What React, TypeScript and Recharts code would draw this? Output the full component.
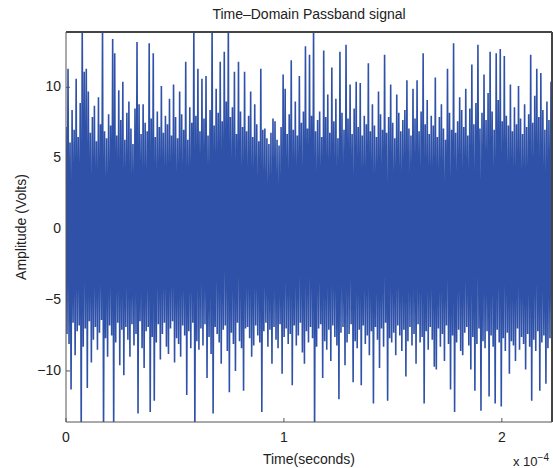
import React from 'react';
import { LineChart, Line, XAxis, YAxis, ReferenceLine } from 'recharts';

// upper and lower swing of each carrier cycle (Volts) left to right
const upperPeaks = [
  7.2, 11.3, 6.1, 8.4, 7.0, 10.6, 6.5, 8.9, 14.5, 11.1,
  11.3, 9.7, 6.8, 7.9, 8.7, 6.2, 9.3, 7.4, 14.5, 6.9,
  6.4, 8.1, 7.3, 13.4, 12.4, 6.6, 9.8, 7.7, 10.4, 6.3,
  8.2, 9.0, 7.1, 6.0, 8.5, 13.2, 8.8, 6.7, 8.8, 7.5,
  6.9, 13.1, 7.8, 12.4, 6.5, 8.3, 7.2, 10.1, 6.8, 8.0,
  7.4, 9.2, 6.6, 10.2, 7.9, 6.4, 9.7, 8.1, 7.0, 11.8,
  6.3, 8.6, 7.5, 14.5, 8.0, 11.3, 6.9, 10.6, 7.8, 10.8,
  6.6, 8.4, 14.5, 7.3, 9.9, 8.2, 11.8, 7.6, 12.5, 9.0,
  14.5, 7.9, 8.6, 11.1, 6.7, 11.8, 8.3, 7.2, 11.1, 6.9,
  8.0, 9.7, 6.5, 8.8, 7.4, 6.2, 11.3, 7.0, 7.1, 6.4,
  6.0, 6.8, 7.8, 7.6, 6.3, 5.9, 7.2, 10.9, 9.9, 6.7,
  8.1, 11.9, 7.0, 9.0, 6.6, 10.8, 7.5, 8.3, 12.9, 7.1,
  12.3, 8.0, 14.5, 6.9, 7.7, 8.3, 6.5, 12.6, 7.9, 9.5,
  6.8, 11.4, 7.6, 9.2, 6.4, 12.5, 8.2, 7.0, 13.0, 7.8,
  10.2, 6.7, 8.5, 10.4, 7.2, 10.3, 6.6, 8.0, 7.4, 11.7,
  6.9, 8.8, 7.3, 6.5, 9.7, 8.1, 7.0, 12.3, 6.8, 7.9,
  10.2, 7.5, 6.4, 9.5, 8.2, 6.9, 7.7, 8.4, 10.5, 7.1,
  6.6, 9.9, 7.8, 10.5, 6.9, 8.3, 12.4, 7.4, 9.1, 6.7,
  8.0, 7.3, 10.7, 6.5, 7.9, 8.8, 7.1, 6.3, 11.3, 8.2,
  7.0, 13.1, 6.8, 7.6, 9.3, 8.4, 7.2, 9.9, 6.6, 8.5,
  11.6, 7.4, 8.9, 13.0, 7.1, 8.2, 10.9, 7.7, 9.6, 12.5,
  8.3, 7.0, 12.4, 9.1, 12.7, 7.6, 12.2, 8.0, 7.3, 10.2,
  6.9, 8.6, 7.4, 10.1, 7.8, 6.7, 8.8, 7.2, 8.1, 12.3,
  7.5, 9.4, 11.3, 7.9, 11.0, 8.4, 7.0, 9.0, 7.7, 10.4,
];

const lowerPeaks = [
  -7.4, -8.1, -11.3, -6.6, -8.9, -7.2, -6.8, -14.5, -8.3, -7.0,
  -11.2, -6.5, -9.4, -7.8, -6.9, -8.5, -7.3, -6.4, -14.5, -7.7,
  -9.0, -6.8, -7.5, -14.5, -8.0, -6.6, -9.6, -7.1, -10.3, -6.9,
  -7.8, -9.0, -6.7, -8.2, -7.4, -13.0, -6.5, -8.4, -9.8, -7.2,
  -6.9, -12.9, -7.6, -12.1, -8.0, -6.7, -9.2, -7.4, -6.6, -8.3,
  -8.8, -7.0, -6.5, -9.4, -7.7, -8.1, -9.0, -6.8, -7.5, -11.7,
  -7.2, -8.4, -6.6, -14.5, -7.9, -8.5, -7.0, -8.2, -6.7, -10.5,
  -7.6, -8.8, -13.0, -6.9, -7.4, -8.0, -9.5, -7.1, -6.8, -8.6,
  -11.5, -7.3, -8.1, -10.0, -6.6, -7.9, -8.4, -11.4, -7.0, -6.9,
  -7.7, -9.0, -8.2, -6.8, -7.5, -8.0, -12.9, -7.2, -6.6, -8.3,
  -7.1, -9.5, -6.9, -7.8, -8.4, -6.7, -10.2, -7.6, -7.0, -8.1,
  -7.4, -11.0, -6.8, -8.2, -7.5, -6.6, -8.7, -9.5, -7.2, -8.0,
  -6.9, -7.7, -14.5, -8.3, -7.0, -6.7, -10.5, -7.9, -8.5, -7.1,
  -9.3, -6.8, -7.6, -8.2, -12.0, -7.3, -6.9, -9.6, -8.0, -7.4,
  -6.7, -10.8, -7.9, -8.4, -7.1, -11.0, -6.8, -8.1, -7.5, -8.9,
  -7.2, -12.3, -6.9, -7.8, -9.8, -7.0, -8.3, -6.6, -12.1, -7.7,
  -8.0, -7.3, -8.9, -6.8, -7.5, -8.6, -7.1, -10.4, -7.9, -6.9,
  -8.2, -7.4, -9.5, -6.7, -8.0, -7.6, -12.3, -7.2, -8.5, -6.9,
  -7.8, -9.7, -9.9, -7.0, -8.3, -7.4, -9.3, -6.8, -8.1, -11.3,
  -7.5, -12.9, -8.0, -7.1, -8.6, -8.9, -7.3, -6.9, -8.2, -9.9,
  -7.6, -11.4, -8.1, -7.0, -12.8, -7.9, -8.4, -7.2, -11.8, -7.5,
  -8.3, -12.3, -7.1, -8.0, -12.5, -7.7, -8.6, -7.3, -10.2, -7.9,
  -8.2, -9.3, -7.0, -8.5, -7.6, -8.1, -9.9, -7.4, -8.3, -12.1,
  -7.8, -8.6, -7.2, -11.4, -8.0, -7.5, -10.9, -8.4, -7.7, -10.2,
];

const xTicks = [0, 1, 2];
const yTicks = [-10, -5, 0, 5, 10];
const timeSpan = 2.23; // x 1e-4 s shown in the window
const yDomain = [-13.6, 13.9];

// interleave the swings into one sampled trace
const step = timeSpan / (upperPeaks.length * 2 - 1);
const data = upperPeaks.flatMap((u, i) => [
  { t: 2 * i * step, v: u },
  { t: (2 * i + 1) * step, v: lowerPeaks[i] },
]);

const font = '"Liberation Sans", Arial, sans-serif';
const textColor = '#222';
const axisColor = '#555';
const frameColor = '#444';

function BottomTick({ x, y, payload }: any) {
  return (
    <g>
      <line x1={x} x2={x} y1={y} y2={y - 4} stroke={axisColor} />
      <text x={x} y={y + 16} textAnchor="middle" dominantBaseline="middle" fontSize={14} fill={textColor} fontFamily={font}>
        {payload.value}
      </text>
    </g>
  );
}

function LeftTick({ x, y, payload }: any) {
  return (
    <g>
      <line x1={x} x2={x + 4} y1={y} y2={y} stroke={axisColor} />
      <text x={x - 5} y={y} textAnchor="end" dominantBaseline="middle" fontSize={14} fill={textColor} fontFamily={font}>
        {payload.value < 0 ? '\u2212' + Math.abs(payload.value) : payload.value}
      </text>
    </g>
  );
}

export default function App() {
  return (
    <div style={{ position: 'absolute', left: 0, top: 0, width: 553, height: 468, background: '#fff', fontFamily: font, color: textColor }}>
      <LineChart width={553} height={468} data={data} margin={{ top: 32, right: 1, bottom: 0, left: 0 }}>
        <XAxis
          dataKey="t"
          type="number"
          domain={[0, timeSpan]}
          ticks={xTicks}
          allowDataOverflow
          height={46}
          tickSize={0}
          tickMargin={0}
          tick={<BottomTick />}
          stroke={axisColor}
        />
        <YAxis
          type="number"
          domain={yDomain}
          ticks={yTicks}
          allowDataOverflow
          width={66}
          tickSize={0}
          tickMargin={0}
          tick={<LeftTick />}
          stroke={axisColor}
        />
        <Line
          dataKey="v"
          type="linear"
          stroke="#2f52a8"
          strokeWidth={1.6}
          dot={false}
          isAnimationActive={false}
        />
        {/* top and right edges of the axes box */}
        <ReferenceLine y={yDomain[1]} stroke={frameColor} strokeWidth={2} />
        <ReferenceLine x={timeSpan} stroke={frameColor} strokeWidth={2} />
      </LineChart>
      <div style={{ position: 'absolute', left: 66, width: 486, top: 6, textAlign: 'center', fontSize: 14 }}>
        Time–Domain Passband signal
      </div>
      <div style={{ position: 'absolute', left: 66, width: 486, top: 451, textAlign: 'center', fontSize: 14 }}>
        Time(seconds)
      </div>
      <div
        style={{
          position: 'absolute',
          left: 21,
          top: 227,
          transform: 'translate(-50%, -50%) rotate(-90deg)',
          whiteSpace: 'nowrap',
          fontSize: 14,
        }}
      >
        Amplitude (Volts)
      </div>
      <div style={{ position: 'absolute', left: 513, top: 452, fontSize: 13, whiteSpace: 'nowrap' }}>
        x 10<sup style={{ fontSize: 10 }}>−4</sup>
      </div>
    </div>
  );
}
